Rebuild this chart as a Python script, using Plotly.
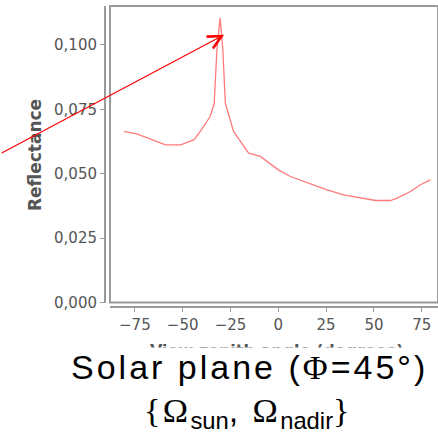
import plotly.graph_objects as go

# View zenith angle (degrees) and reflectance values
vza = [-80.6, -74, -59, -51, -44, -40.8, -35.6, -33.5, -32.1, -30.4, -29, -27.7,
       -23.4, -15.5, -9.4, 0, 6.3, 25.5, 34.2, 50.8, 58.6, 62.1, 69.1, 74.3, 79.6]
reflectance = [0.0664, 0.0655, 0.0612, 0.0612, 0.0632, 0.0664, 0.0722, 0.0774, 0.0982,
               0.1105, 0.0982, 0.0774, 0.0664, 0.0580, 0.0567, 0.0515, 0.0489, 0.0437,
               0.0418, 0.0396, 0.0396, 0.0405, 0.0431, 0.0457, 0.0476]
x_ticks = [-75, -50, -25, 0, 25, 50, 75]
y_ticks = [0.0, 0.025, 0.05, 0.075, 0.1]

W, H = 438, 445
ML, MT, MB = 100, 6, 138
plot_w = W - ML
plot_h = H - MT - MB

def py(p):
    return (H - MB - p) / plot_h

fig = go.Figure()
fig.add_trace(go.Scatter(x=vza, y=reflectance, mode="lines",
                         line=dict(color="#ff7a7a", width=1.3), showlegend=False))

axis_col = "#9a9a9a"
fig.update_layout(
    width=W, height=H,
    margin=dict(l=ML, r=0, t=MT, b=MB, autoexpand=False),
    paper_bgcolor="white", plot_bgcolor="white",
    separators=",.",
    font=dict(family="DejaVu Sans", color="#555555"),
    xaxis=dict(domain=[10 / plot_w, 1], range=[-88, 83.5], anchor="free", position=0,
               tickvals=x_ticks, showgrid=False, zeroline=False, showline=True,
               automargin=False,
               linecolor=axis_col, linewidth=2, ticks="outside", ticklen=4,
               tickcolor=axis_col, tickfont=dict(size=15, color="#555555")),
    yaxis=dict(domain=[py(302.5), 1], range=[0, 0.1151], anchor="free",
               position=5 / plot_w, tickvals=y_ticks, tickformat=".3f",
               automargin=False,
               showgrid=False, zeroline=False, showline=True, linecolor=axis_col,
               linewidth=2, ticks="outside", ticklen=4, tickcolor=axis_col,
               tickfont=dict(size=15, color="#555555")),
)

fig.add_shape(type="rect", xref="x domain", yref="y domain", x0=0, x1=1, y0=0, y1=1,
              line=dict(color=axis_col, width=2), layer="above")

# Axis titles
fig.add_annotation(text="<b>View zenith angle (degrees)</b>", xref="paper", yref="paper",
                   x=(276 - ML) / plot_w, y=py(350), showarrow=False,
                   font=dict(size=16, color="#555555"), xanchor="center", yanchor="middle")
fig.add_annotation(text="<b>Reflectance</b>", xref="paper", yref="paper",
                   x=(35 - ML) / plot_w, y=py(155), textangle=-90, showarrow=False,
                   font=dict(size=17, color="#555555"), xanchor="center", yanchor="middle")

# Red arrow
fig.add_annotation(x=-28.3, y=0.1039, xref="x", yref="y", ax=-224, ay=119,
                   showarrow=True, arrowhead=5, arrowsize=2.2, arrowwidth=1.2,
                   arrowcolor="#ff0000", text="")

# Big captions
SERIF = "font-family:Liberation Serif"
LS1 = "letter-spacing:3px"
fig.add_annotation(text=f'<span style="{LS1}">Solar plane (</span>'
                        f'<span style="{SERIF};{LS1}">Φ</span>'
                        f'<span style="{LS1}">=45°)</span>',
                   xref="paper", yref="paper", x=(429 - ML) / plot_w, y=py(367),
                   showarrow=False, bgcolor="white", borderpad=0,
                   font=dict(family="Liberation Sans", size=34, color="black"),
                   xanchor="right", yanchor="middle")
fig.add_annotation(text=f'<span style="{SERIF};letter-spacing:2.4px">{{Ω</span><sub>sun</sub>'
                        '<span style="letter-spacing:2.4px">, </span>'
                        f'<span style="{SERIF};letter-spacing:2.4px">Ω</span><sub>nadir</sub>'
                        f'<span style="{SERIF}">}}</span>',
                   xref="paper", yref="paper", x=(246 - ML) / plot_w, y=py(413),
                   showarrow=False,
                   font=dict(family="Liberation Sans", size=34, color="black"),
                   xanchor="center", yanchor="middle")

fig.write_html("out.html", config={"displayModeBar": False},
               post_script="document.body.style.margin='0';document.body.style.overflow='hidden';")
